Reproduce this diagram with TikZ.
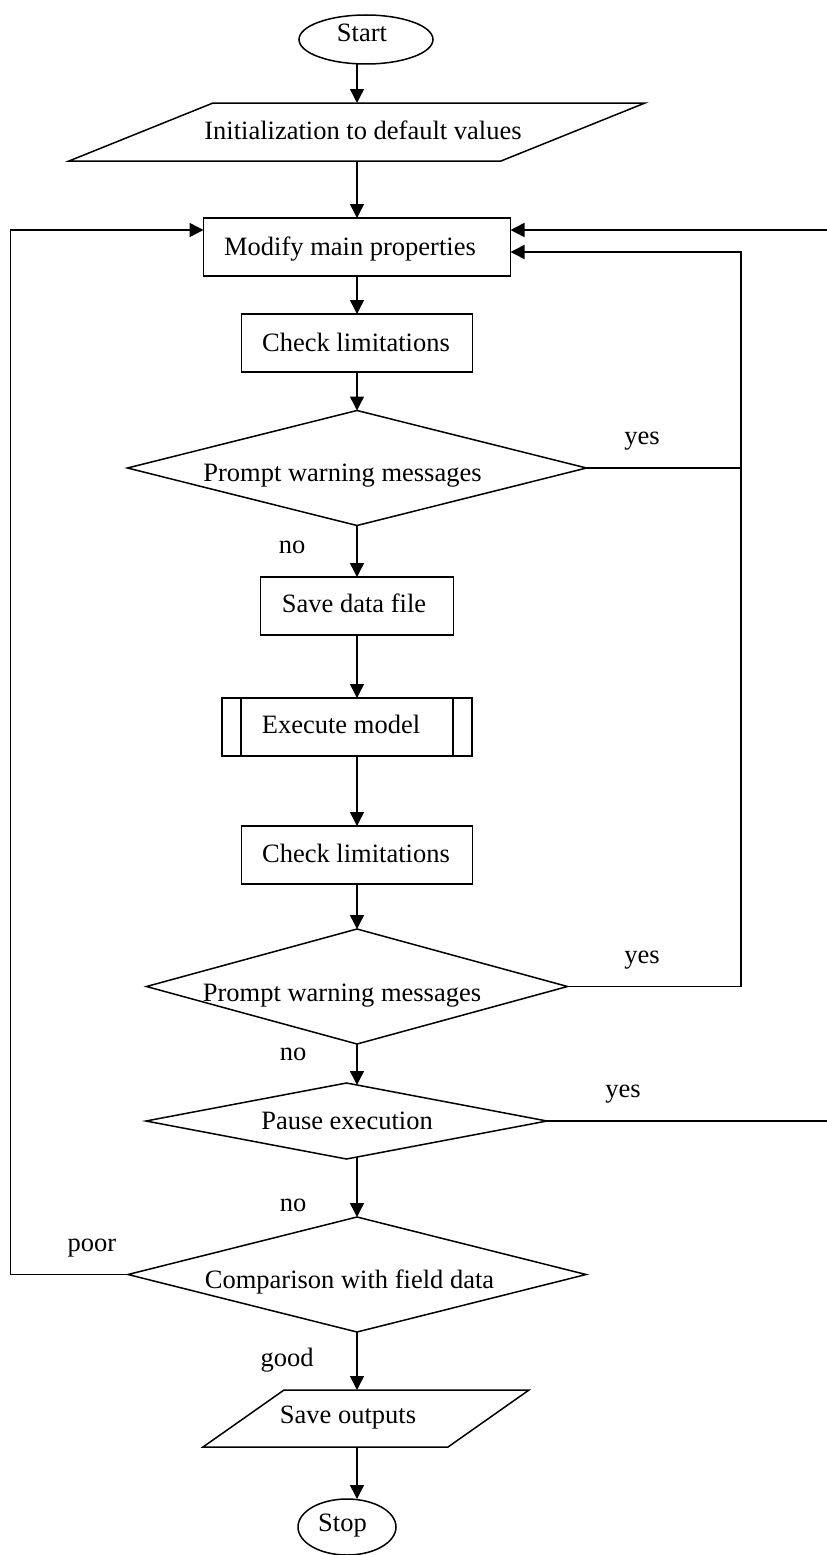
\documentclass[tikz,border=0pt]{standalone}
\usepackage{fontspec}
\setmainfont{Liberation Serif}
\usetikzlibrary{shapes.geometric,arrows.meta,calc}
\begin{document}
\begin{tikzpicture}[x=1pt,y=-1pt,
  every node/.style={inner sep=0pt,outer sep=0pt},
  ln/.style={line width=1.5pt},
  arr/.style={ln,-{Triangle[width=14pt,length=14pt]}},
  boxnode/.style={draw,ln,minimum height=58pt},
  decision/.style={draw,ln,diamond,aspect=4},
  term/.style={draw,ln,ellipse},
  txt/.style={font=\fontsize{26.5}{30}\selectfont}]
\useasboundingbox (0,0) rectangle (827,1555);
\clip (0,0) rectangle (827,1555);

% shapes
\node[term,minimum width=134pt,minimum height=49pt] (start) at (366,39.5) {};
\node[txt] (tstart) at (362,33) {Start};

\node[minimum width=576pt,minimum height=58pt] (init) at (357,132) {};
\draw[ln] ($(init.north west)+(144,0)$) -- (init.north east) -- ($(init.south east)-(144,0)$) -- (init.south west) -- cycle;
\node[txt] (tinit) at (363,130) {Initialization to default values};

\node[boxnode,minimum width=307pt] (modify) at (357,247) {};
\node[txt] (tmodify) at (350,249.5) {Modify main properties};

\node[boxnode,minimum width=231pt] (check1) at (357,343) {};
\node[txt] (tcheck1) at (356,342) {Check limitations};

\node[decision,minimum width=459pt,minimum height=115pt] (d1) at (357,468) {};
\node[txt] (td1) at (342.5,476) {Prompt warning messages};

\node[boxnode,minimum width=193pt] (save) at (357,606) {};
\node[txt] (tsave) at (354,603.5) {Save data file};

\node[boxnode,minimum width=250pt] (exec) at (347,727) {};
\draw[ln] ($(exec.north west)+(19,0)$) -- ($(exec.south west)+(19,0)$);
\draw[ln] ($(exec.north east)-(19,0)$) -- ($(exec.south east)-(19,0)$);
\node[txt] (texec) at (341,724.5) {Execute model};

\node[boxnode,minimum width=231pt] (check2) at (357,855) {};
\node[txt] (tcheck2) at (356,853) {Check limitations};

\node[decision,minimum width=421pt,minimum height=115pt] (d2) at (357,986.5) {};
\node[txt] (td2) at (342,996) {Prompt warning messages};

\node[decision,minimum width=401pt,minimum height=76pt] (d3) at (346.5,1121) {};
\node[txt] (td3) at (347,1121) {Pause execution};

\node[decision,minimum width=458pt,minimum height=115pt] (d4) at (357,1274.5) {};
\node[txt] (td4) at (349.5,1282) {Comparison with field data};

\node[minimum width=326pt,minimum height=57pt] (saveout) at (366,1418.5) {};
\draw[ln] ($(saveout.north west)+(81,0)$) -- (saveout.north east) -- ($(saveout.south east)-(81,0)$) -- (saveout.south west) -- cycle;
\node[txt] (tsaveout) at (348,1418) {Save outputs};

\node[term,minimum width=98pt,minimum height=56pt] (stop) at (347,1527) {};
\node[txt] (tstop) at (342.5,1526) {Stop};

% main flow
\draw[arr] (start.south -| init.north) -- (init.north);
\draw[arr] (init.south) -- (modify.north);
\draw[arr] (modify.south) -- (check1.north);
\draw[arr] (check1.south) -- (d1.north);
\draw[arr] (d1.south) -- (save.north);
\draw[arr] (save.south) -- (save.south |- exec.north);
\draw[arr] (exec.south -| check2.north) -- (check2.north);
\draw[arr] (check2.south) -- (d2.north);
\draw[arr] (d2.south) -- ($(d2.south |- d3.north)+(0,2)$);
\draw[arr] ($(d4.north |- d3.south)-(0,2)$) -- (d4.north);
\draw[arr] (d4.south) -- (d4.south |- saveout.north);
\draw[arr] (d4.south |- saveout.south) -- (d4.south |- stop.north);

% loops
\coordinate (r1) at (741,252);
\coordinate (r2) at (840,230);
\coordinate (l1) at (10.5,230);
\draw[arr] (d1.east) -| (r1) -- (modify.east |- r1);
\draw[ln] (d2.east) -| (d1.east -| r1);
\draw[arr] (d3.east) -| (r2) -- (modify.east |- r2);
\draw[arr] (d4.west) -| (l1) -- (modify.west |- l1);

% labels
\node[txt] (yes1) at (642,441) {yes};
\node[txt] (no1) at (292,547) {no};
\node[txt] (yes2) at (642,960) {yes};
\node[txt] (no2) at (293,1054) {no};
\node[txt] (yes3) at (623,1094) {yes};
\node[txt] (no3) at (293,1205) {no};
\node[txt] (poor) at (92,1248) {poor};
\node[txt] (good) at (287,1360) {good};
\end{tikzpicture}
\end{document}
